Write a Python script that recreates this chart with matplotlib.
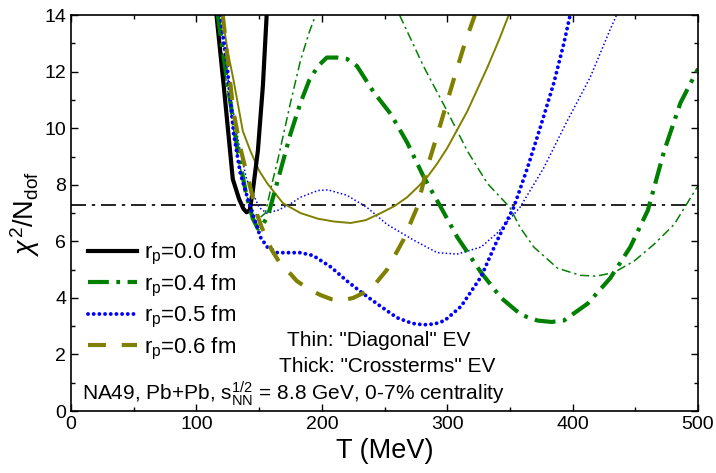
import numpy as np
import matplotlib
matplotlib.use("Agg")
import matplotlib.pyplot as plt
from matplotlib.ticker import MultipleLocator

plt.rcParams['font.family'] = ['Liberation Sans', 'DejaVu Sans']
plt.rcParams['mathtext.fontset'] = 'custom'
plt.rcParams['mathtext.rm'] = 'Liberation Sans'
plt.rcParams['mathtext.it'] = 'Liberation Sans:italic'

nan = np.nan

# rp = 0.0 fm (thick)
t_00 = [116, 122, 129, 134, 137.5, 140, 142.5, 145, 149, 153, 156]
chi_00 = [14, 11.4, 8.2, 7.5, 7.15, 7.03, 7.1, 7.8, 9.2, 11.5, 14]

# rp = 0.4 fm, thick ("Crossterms") and thin ("Diagonal")
t_04_thick = [117, 125, 133, 140, 145, 149, 153, 157, 167, 175, 183, 190, 197, 204, 212,
              220, 228, 241, 255, 268, 281, 295, 308, 327, 343, 359, 372, 383, 393, 412,
              430, 446, 460, 473, 486, 500]
chi_04_thick = [14, 11.5, 9.2, 7.6, 6.8, 6.45, 6.6, 6.9, 8.5, 9.8, 10.9, 11.7, 12.2, 12.5, 12.5,
                12.45, 12.2, 11.3, 10.5, 9.5, 8.3, 7.2, 6.15, 4.9, 4.0, 3.4, 3.2, 3.15, 3.2, 3.8,
                4.7, 5.8, 7.1, 9.2, 10.9, 12.1]
t_04_thin = [116, 125, 133, 140, 146, 151, 155, 160, 165, 175, 183, 190, 195, nan,
             262, 281, 300, 316, 332, 350, 358, 369, 388, 406, 419, 433, 449, 465, 481, 499, 500]
chi_04_thin = [14, 11.3, 9.0, 7.6, 7.0, 6.85, 7.0, 8.0, 8.9, 10.9, 12.4, 13.4, 14, nan,
               14, 12.2, 10.6, 9.2, 8.05, 7.2, 6.5, 5.8, 5.05, 4.8, 4.77, 4.9, 5.3, 5.9, 6.6, 7.9, 7.95]

# rp = 0.5 fm
t_05_thick = [119, 124.5, 129.7, 135, 143, 148.5, 151, 156.5, 164.5, 175, 183, 193, 207, 220,
              233, 247, 260, 272, 281, 290, 298, 311, 327, 340, 353, 364, 374, 385, 393, 398]
chi_05_thick = [14, 12.2, 9.8, 8.4, 7.2, 6.5, 6.15, 5.8, 5.6, 5.6, 5.6, 5.5, 5.1, 4.6,
                4.15, 3.7, 3.3, 3.1, 3.05, 3.08, 3.2, 3.7, 4.75, 6.05, 7.2, 8.6, 10.0, 11.6, 13.0, 14]
t_05_thin = [118, 126, 134, 140, 145, 150, 156, 165, 174, 183, 197, 205, 220, 236, 252, 273,
             292, 308, 327, 340, 358, 377, 395, 414, 430, 435]
chi_05_thin = [14, 11.5, 9.4, 8.2, 7.7, 7.2, 7.0, 7.1, 7.3, 7.56, 7.8, 7.82, 7.63, 7.2, 6.6, 6.05,
               5.6, 5.55, 5.8, 6.3, 7.2, 8.6, 10.2, 11.8, 13.5, 14]

# rp = 0.6 fm
t_06_thick = [121, 129.5, 135, 143, 148, 152, 160, 167, 175, 180, 190, 199, 208, 215, 225,
              239, 252, 265, 276, 284, 295, 305, 314, 322]
chi_06_thick = [14, 10.6, 9.3, 7.9, 7.0, 6.5, 5.7, 5.2, 4.85, 4.6, 4.3, 4.1, 3.95, 3.9, 4.0,
                4.3, 5.0, 6.05, 7.2, 8.6, 10.2, 11.7, 13.0, 14]
t_06_thin = [120.5, 125, 129.6, 137, 143, 150, 156.5, 169, 183, 197, 210, 223, 235, 247, 258,
             268, 276, 284, 292, 300, 316, 332, 342, 349]
chi_06_thin = [14, 12.7, 11.7, 9.9, 9.2, 8.5, 8.05, 7.35, 7.0, 6.8, 6.7, 6.65, 6.75, 7.0, 7.25,
               7.56, 7.9, 8.27, 8.75, 9.3, 10.6, 12.15, 13.2, 14]

chi_ref = 7.3

green = '#008000'
blue = '#0000ff'
olive = '#808000'

fig = plt.figure(figsize=(7.16, 4.73), dpi=100)
ax = fig.add_axes([0.0992, 0.131, 0.8757, 0.837])

ax.axhline(chi_ref, color='black', lw=1.2, linestyle=(0, (9, 3.5, 2, 3.5)))

# thin curves
ax.plot(t_04_thin, chi_04_thin, color=green, lw=1.1, linestyle=(0, (6, 2.5, 1.5, 2.5)))
ax.plot(t_05_thin, chi_05_thin, color=blue, lw=1.1, linestyle=(0, (1, 1.5)))
ax.plot(t_06_thin, chi_06_thin, color=olive, lw=1.4)

# thick curves
ax.plot(t_00, chi_00, color='black', lw=3, label=r'r$_{\rm p}$=0.0 fm')
ax.plot(t_04_thick, chi_04_thick, color=green, lw=3, linestyle=(0, (5, 1.8, 0.9, 1.8)),
        label=r'r$_{\rm p}$=0.4 fm')
ax.plot(t_05_thick, chi_05_thick, color=blue, lw=2.8, linestyle=(0, (0.01, 1.45)),
        dash_capstyle='round', label=r'r$_{\rm p}$=0.5 fm')
ax.plot(t_06_thick, chi_06_thick, color=olive, lw=3, linestyle=(0, (4.3, 3.8)),
        label=r'r$_{\rm p}$=0.6 fm')

ax.set_xlim(0, 500)
ax.set_ylim(0, 14)
ax.xaxis.set_major_locator(MultipleLocator(100))
ax.xaxis.set_minor_locator(MultipleLocator(50))
ax.yaxis.set_major_locator(MultipleLocator(2))
ax.yaxis.set_minor_locator(MultipleLocator(1))
ax.tick_params(which='both', direction='in', top=True, right=True, labelsize=14)
ax.tick_params(which='major', length=5, width=1)
ax.tick_params(which='minor', length=3, width=1)
for s in ax.spines.values():
    s.set_linewidth(1.2)

ax.set_xlabel('T (MeV)', fontsize=19.5, labelpad=4)
ax.set_ylabel(r'$\chi^2$/N$_{\rm dof}$', fontsize=19.5, labelpad=2)

leg = ax.legend(loc='upper left', bbox_to_anchor=(0.027, 0.43), frameon=False, fontsize=16,
                handlelength=2.2, handletextpad=0.3, labelspacing=0.25, borderpad=0,
                borderaxespad=0)

ax.text(245, 2.5, 'Thin: "Diagonal" EV', fontsize=15, ha='center', va='center')
ax.text(252, 1.58, 'Thick: "Crossterms" EV', fontsize=15, ha='center', va='center')
ax.text(9, 0.62, r'NA49, Pb+Pb, s$_{\rm NN}^{1/2}$ = 8.8 GeV, 0-7% centrality', fontsize=15,
        ha='left', va='center')

fig.savefig('out.png', dpi=100)
